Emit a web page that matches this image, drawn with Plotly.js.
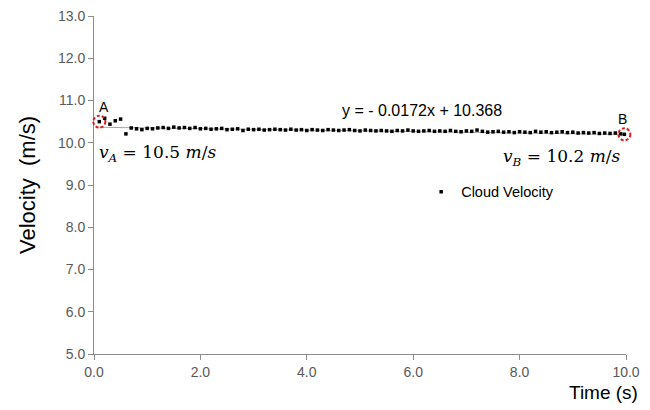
<!DOCTYPE html>
<html><head><meta charset="utf-8">
<script src="https://cdn.plot.ly/plotly-3.0.1.min.js"></script>
<style>body{margin:0;background:#fff}#c{width:650px;height:410px}</style>
</head><body><div id="c"></div>
<script>
const time = [0.1,0.2,0.3,0.4,0.5,0.6,0.7,0.8,0.9,1.0,1.1,1.2,1.3,1.4,1.5,1.6,1.7,1.8,1.9,2.0,2.1,2.2,2.3,2.4,2.5,2.6,2.7,2.8,2.9,3.0,3.1,3.2,3.3,3.4,3.5,3.6,3.7,3.8,3.9,4.0,4.1,4.2,4.3,4.4,4.5,4.6,4.7,4.8,4.9,5.0,5.1,5.2,5.3,5.4,5.5,5.6,5.7,5.8,5.9,6.0,6.1,6.2,6.3,6.4,6.5,6.6,6.7,6.8,6.9,7.0,7.1,7.2,7.3,7.4,7.5,7.6,7.7,7.8,7.9,8.0,8.1,8.2,8.3,8.4,8.5,8.6,8.7,8.8,8.9,9.0,9.1,9.2,9.3,9.4,9.5,9.6,9.7,9.8,9.9,9.97];
const velocity = [10.50,10.58,10.44,10.52,10.56,10.21,10.35,10.33,10.31,10.34,10.33,10.35,10.36,10.34,10.37,10.35,10.36,10.34,10.36,10.33,10.34,10.32,10.33,10.34,10.31,10.32,10.33,10.29,10.32,10.31,10.32,10.30,10.31,10.32,10.31,10.30,10.32,10.30,10.31,10.29,10.31,10.30,10.29,10.31,10.30,10.29,10.30,10.31,10.29,10.28,10.30,10.29,10.28,10.29,10.28,10.27,10.29,10.28,10.30,10.28,10.27,10.28,10.29,10.27,10.28,10.27,10.29,10.27,10.26,10.28,10.27,10.30,10.27,10.25,10.26,10.27,10.25,10.26,10.24,10.26,10.25,10.24,10.27,10.25,10.26,10.24,10.25,10.26,10.24,10.25,10.23,10.24,10.23,10.24,10.22,10.23,10.22,10.23,10.21,10.20];
const trendSlope = -0.0172, trendIntercept = 10.368;
const yTicks = [5,6,7,8,9,10,11,12,13];
const yTickText = ['5.0','6.0','7.0','8.0','9.0','10.0','11.0','12.0','13.0'];
const xTicks = [0,2,4,6,8,10];
const xTickText = ['0.0','2.0','4.0','6.0','8.0','10.0'];
const labelA = 'v<sub>A</sub> = 10.5 m/s', labelB = 'v<sub>B</sub> = 10.2 m/s';

const xRange = [0, 10], yRange = [5, 13];
const x0 = time[0], x1 = time[time.length-1];
const trendX = [x0, x1];
const trendY = trendX.map(t => trendSlope*t + trendIntercept);
const gray = '#595959';

const traces = [
  {x: trendX, y: trendY, mode: 'lines', line: {color: '#a6a6a6', width: 1}, showlegend: false, hoverinfo: 'skip'},
  {x: time, y: velocity, mode: 'markers', name: 'Cloud Velocity', cliponaxis: false,
   marker: {symbol: 'square', size: 3.5, color: '#000000'}}
];

function circ(xv, yv){
  const px = (xv - xRange[0])/(xRange[1]-xRange[0]);
  const py = (yv - yRange[0])/(yRange[1]-yRange[0]);
  return {type: 'circle', xref: 'paper', yref: 'paper', xsizemode: 'pixel', ysizemode: 'pixel',
    xanchor: px, yanchor: py, x0: -6, x1: 6, y0: -6, y1: 6,
    line: {color: '#e01b1b', width: 2, dash: '3px,2px'}};
}
const ia = 0, ib = time.length-1;
const mathFont = {family: 'DejaVu Serif, serif', size: 17, color: '#000'};
function mathText(s){
  return s.replace(/v<sub>(\w)<\/sub>/, '<i>v</i><sub><i>$1</i></sub>').replace('m/s', '<i>m</i>/<i>s</i>');
}

const layout = {
  width: 650, height: 410,
  margin: {l: 94, r: 24, t: 16, b: 56},
  paper_bgcolor: '#fff', plot_bgcolor: '#fff',
  font: {family: 'Arial, Liberation Sans, sans-serif', color: gray, size: 14},
  xaxis: {range: xRange, tickvals: xTicks, ticktext: xTickText, showgrid: false, zeroline: false,
    showline: true, linecolor: '#8c8c8c', linewidth: 1, ticks: 'outside', ticklen: 5, tickcolor: '#8c8c8c',
    tickfont: {size: 14, color: gray}},
  yaxis: {range: yRange, tickvals: yTicks, ticktext: yTickText, showgrid: false, zeroline: false,
    showline: true, linecolor: '#8c8c8c', linewidth: 1, ticks: 'outside', ticklen: 5, tickcolor: '#8c8c8c',
    tickfont: {size: 14, color: gray},
    title: {text: 'Velocity  (m/s)', font: {size: 22, color: '#000'}, standoff: 16}},
  legend: {x: 0.615, y: 0.48, xanchor: 'left', yanchor: 'middle', bgcolor: 'rgba(0,0,0,0)',
    font: {size: 14.5, color: '#000'}},
  shapes: [circ(time[ia], velocity[ia]), circ(time[ib], velocity[ib])],
  annotations: [
    {x: time[ia], y: velocity[ia], xref: 'x', yref: 'y', text: 'A', showarrow: false, yshift: 15, xshift: 5,
     font: {size: 14, color: '#000'}},
    {x: time[ib], y: velocity[ib], xref: 'x', yref: 'y', text: 'B', showarrow: false, yshift: 15, xshift: -2,
     font: {size: 14, color: '#000'}},
    {x: 6.17, y: 10.77, xref: 'x', yref: 'y', text: 'y = - 0.0172x + 10.368', showarrow: false,
     font: {size: 16, color: '#000'}},
    {x: 0.05, y: 9.74, xref: 'x', yref: 'y', xanchor: 'left', text: mathText(labelA), showarrow: false, font: mathFont},
    {x: 9.95, y: 9.66, xref: 'x', yref: 'y', xanchor: 'right', text: mathText(labelB), showarrow: false, font: mathFont},
    {x: 1, y: 0, xref: 'paper', yref: 'paper', xanchor: 'right', yanchor: 'middle', yshift: -38, xshift: 14,
     text: 'Time (s)', showarrow: false, font: {size: 19, color: '#000'}}
  ]
};
Plotly.newPlot('c', traces, layout, {staticPlot: true});
</script></body></html>
